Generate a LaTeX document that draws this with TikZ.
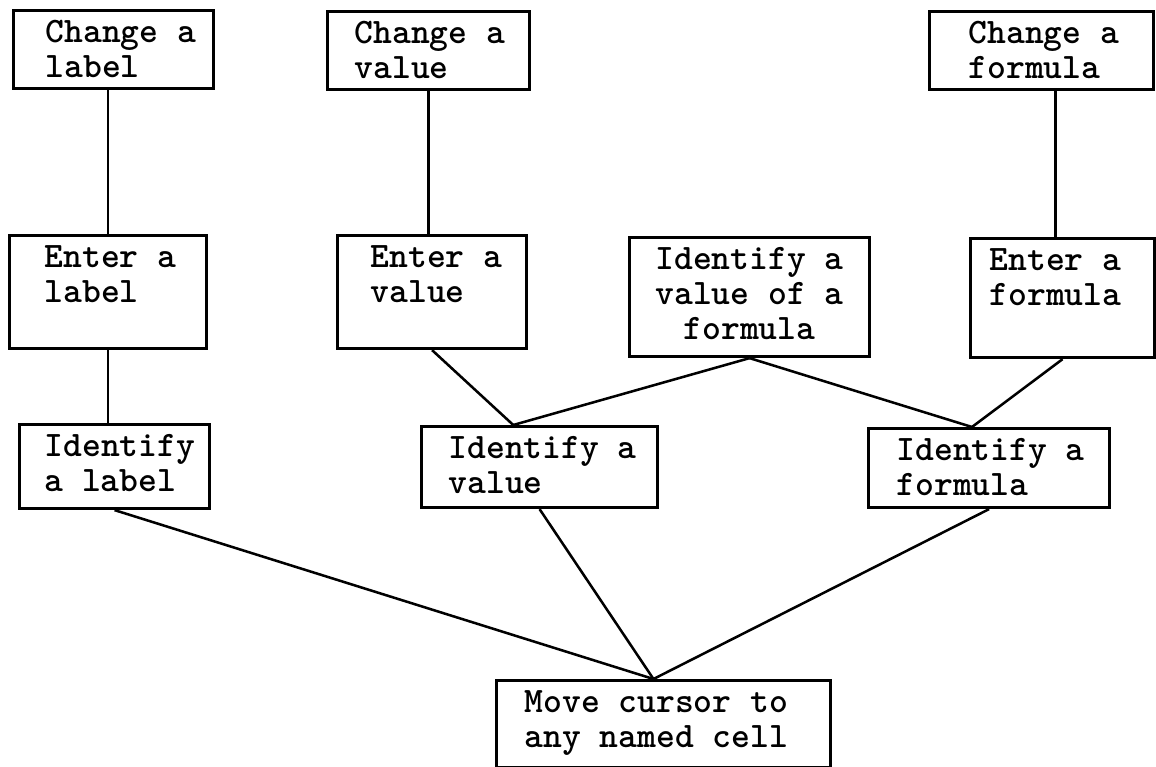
\documentclass[tikz,border=0pt]{standalone}
\usepackage{fontspec}
\usetikzlibrary{calc}

\tikzset{
  card/.style={draw, line width=2.2pt, anchor=north west, inner xsep=0pt,
    inner ysep=0.2cm, text height=0.6cm,
    font={\ttfamily\bfseries\fontsize{25.5pt}{25pt}\selectfont}},
  lcard/.style={card, align=left,
    execute at begin node={\spaceskip=0pt\xspaceskip=0pt\leftskip=#1}},
  lcard/.default=0.75cm,
  ccard/.style={card, align=center,
    execute at begin node={\spaceskip=0pt\xspaceskip=0pt}},
  link/.style={line width=1.8pt}
}

\begin{document}
\begin{tikzpicture}[x=0.025cm, y=-0.025cm]
  \useasboundingbox (0,0) rectangle (1156,767);

  % top row
  \node[lcard=0.8cm, text width=5cm, text depth=0.95cm] (chlabel) at (12,9) {Change a\\label};
  \node[lcard=0.675cm, text width=5.05cm, text depth=0.95cm] (chvalue) at (326,10) {Change a\\value};
  \node[lcard=0.975cm, text width=5.6cm, text depth=0.95cm] (chformula) at (928,10) {Change a\\formula};

  % middle row
  \node[lcard=0.875cm, text width=4.925cm, text depth=1.825cm] (enlabel) at (8,234) {Enter a\\label};
  \node[lcard=0.825cm, text width=4.725cm, text depth=1.825cm] (envalue) at (336,234) {Enter a\\value};
  \node[ccard, text width=6cm, text depth=1.975cm] (idvof) at (628,236) {Identify a\\value of a\\formula};
  \node[lcard=0.475cm, text width=4.6cm, text depth=1.975cm] (enformula) at (969,237) {Enter a\\formula};

  % lower row
  \node[lcard=0.625cm, text width=4.75cm, text depth=1.1cm] (idlabel) at (18,423) {Identify\\a label};
  \node[lcard=0.675cm, text width=5.9cm, text depth=1.025cm] (idvalue) at (420,425) {Identify a\\value};
  \node[lcard=0.7cm, text width=6.025cm, text depth=0.975cm] (idformula) at (867,427) {Identify a\\formula};

  % bottom
  \node[lcard=0.7cm, text width=8.35cm, text depth=1.175cm] (move) at (495,679) {Move cursor to\\any named cell};

  \coordinate (vapex) at ($(idvalue.north west)!0.39!(idvalue.north east)$);
  \coordinate (fapex) at ($(idformula.north west)!0.43!(idformula.north east)$);
  \coordinate (mapex) at ($(move.north west)!0.47!(move.north east)$);

  \draw[link] (enlabel.north) -- (enlabel.north |- chlabel.south);
  \draw[link] (enlabel.south) -- (enlabel.south |- idlabel.north);
  \draw[link] (chvalue.south) -- (chvalue.south |- envalue.north);
  \draw[link] ([xshift=-0.175cm]enformula.north) -- ([xshift=-0.175cm]enformula.north |- chformula.south);

  \draw[link] (envalue.south) -- (vapex);
  \draw[link] (idvof.south) -- (vapex);
  \draw[link] (idvof.south) -- (fapex);
  \draw[link] (enformula.south) -- (fapex);

  \draw[link] (idlabel.south) -- (mapex);
  \draw[link] (idvalue.south) -- (mapex);
  \draw[link] (idformula.south) -- (mapex);
\end{tikzpicture}
\end{document}
